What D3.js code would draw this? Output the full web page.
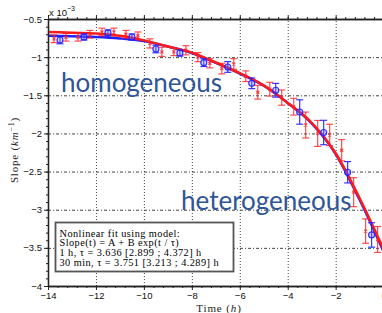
<!DOCTYPE html>
<html>
<head>
<meta charset="utf-8">
<script src="https://cdn.jsdelivr.net/npm/d3@7"></script>
<style>
  body { margin: 0; background: #fff; }
  .tick text { font-family: "Liberation Sans", Arial, sans-serif; font-size: 9.5px; fill: #111; }
</style>
</head>
<body>
<div id="chart"></div>
<script>
// 1 h series (blue circles), values in 1e-3 km^-1
const hourTimes = [-13.5, -12.5, -11.5, -10.5, -9.5, -8.5, -7.5, -6.5, -5.5, -4.5, -3.5, -2.5, -1.5, -0.5];
const hourSlope = [-0.775, -0.736, -0.683, -0.736, -0.893, -0.946, -1.073, -1.129, -1.343, -1.434, -1.719, -1.988, -2.509, -3.331];
const hourErr   = [0.05, 0.04, 0.04, 0.04, 0.05, 0.04, 0.05, 0.07, 0.07, 0.09, 0.16, 0.16, 0.14, 0.16];

// 30 min series (red crosses)
const halfTimes = [-13.75, -13.25, -12.75, -12.25, -11.75, -11.25, -10.75, -10.25, -9.75, -9.25,
  -8.75, -8.25, -7.75, -7.25, -6.75, -6.25, -5.75, -5.25, -4.75, -4.25,
  -3.75, -3.25, -2.75, -2.25, -1.75, -1.25, -0.75, -0.25];
const halfSlope = [-0.76, -0.74, -0.74, -0.70, -0.67, -0.67, -0.70, -0.72, -0.82, -0.93,
  -0.93, -0.91, -1.00, -1.08, -1.15, -1.09, -1.25, -1.46, -1.42, -1.53,
  -1.65, -1.89, -2.00, -2.02, -2.22, -2.77, -3.28, -3.39];
const halfErr = [0.05, 0.05, 0.05, 0.05, 0.05, 0.05, 0.05, 0.05, 0.06, 0.06,
  0.05, 0.06, 0.06, 0.06, 0.07, 0.07, 0.07, 0.09, 0.09, 0.10,
  0.11, 0.17, 0.17, 0.14, 0.14, 0.19, 0.16, 0.17];

// fitted curves, read at each hour
const fitTimes = [-14, -13, -12, -11, -10, -9, -8, -7, -6, -5, -4, -3, -2, -1, 0];
const fitHalf  = [-0.67, -0.68, -0.69, -0.72, -0.78, -0.86, -0.94, -1.07, -1.21, -1.37, -1.60, -1.86, -2.26, -2.85, -3.52];
const fitHour  = [-0.72, -0.725, -0.735, -0.755, -0.79, -0.86, -0.945, -1.075, -1.215, -1.375, -1.60, -1.87, -2.27, -2.87, -3.55];

const xTicks = [-14, -12, -10, -8, -6, -4, -2, 0];
const yTicks = [-0.5, -1, -1.5, -2, -2.5, -3, -3.5, -4];

const legendLines = [
  "Nonlinear fit using model:",
  "Slope(t) = A + B exp(t / \u03c4)",
  "1 h, \u03c4 = 3.636 [2.899 ; 4.372] h",
  "30 min, \u03c4 = 3.751 [3.213 ; 4.289] h"
];

const W = 382, H = 313;
const plotLeft = 48, plotRight = 383.6, plotTop = 19, plotBottom = 286;

const svg = d3.select('#chart').append('svg')
  .attr('width', W)
  .attr('height', H);

const x = d3.scaleLinear().domain([-14, 0]).range([plotLeft, plotRight]);
const y = d3.scaleLinear().domain([-4, -0.5]).range([plotBottom, plotTop]);

const fmt = d => String(d).replace('-', '\u2212');

// Grid
svg.append('g')
  .attr('transform', `translate(0,${plotBottom})`)
  .call(d3.axisBottom(x).tickValues(xTicks.slice(1, -1)).tickSize(-(plotBottom - plotTop)).tickFormat(''))
  .call(g => g.select('.domain').remove())
  .call(g => g.selectAll('line').attr('stroke', '#444').attr('stroke-dasharray', '1,2'));

svg.append('g')
  .attr('transform', `translate(${plotLeft},0)`)
  .call(d3.axisLeft(y).tickValues(yTicks.slice(1, -1)).tickSize(-(plotRight - plotLeft)).tickFormat(''))
  .call(g => g.select('.domain').remove())
  .call(g => g.selectAll('line').attr('stroke', '#444').attr('stroke-dasharray', '3,2,1,2'));

// Big annotations
svg.append('text')
  .attr('x', 61).attr('y', 92)
  .attr('font-family', 'Lato, "Open Sans", sans-serif')
  .attr('font-size', 26)
  .attr('fill', '#2f5597')
  .text('homogeneous');

svg.append('text')
  .attr('x', 181).attr('y', 210)
  .attr('font-family', 'Lato, "Open Sans", sans-serif')
  .attr('font-size', 26)
  .attr('fill', '#2f5597')
  .text('heterogeneous');

// Fit curves
const fitLine = vals => d3.line()
  .x((d, i) => x(fitTimes[i]))
  .y(d => y(d))
  .curve(d3.curveMonotoneX)(vals);

svg.append('path')
  .attr('d', fitLine(fitHour))
  .attr('fill', 'none')
  .attr('stroke', '#2020ff')
  .attr('stroke-width', 2.5);

svg.append('path')
  .attr('d', fitLine(fitHalf))
  .attr('fill', 'none')
  .attr('stroke', '#ff1a1a')
  .attr('stroke-width', 2.5);

// Error bars
function errorBars(times, vals, errs, color, opacity) {
  const g = svg.append('g')
    .attr('stroke', color)
    .attr('stroke-opacity', opacity)
    .attr('stroke-width', 1.2)
    .attr('fill', 'none');
  const pts = g.selectAll('g').data(times).enter().append('g');
  pts.append('line')
    .attr('x1', d => x(d)).attr('x2', d => x(d))
    .attr('y1', (d, i) => y(vals[i] + errs[i]))
    .attr('y2', (d, i) => y(vals[i] - errs[i]));
  pts.append('line')
    .attr('x1', d => x(d) - 3.5).attr('x2', d => x(d) + 3.5)
    .attr('y1', (d, i) => y(vals[i] + errs[i]))
    .attr('y2', (d, i) => y(vals[i] + errs[i]));
  pts.append('line')
    .attr('x1', d => x(d) - 3.5).attr('x2', d => x(d) + 3.5)
    .attr('y1', (d, i) => y(vals[i] - errs[i]))
    .attr('y2', (d, i) => y(vals[i] - errs[i]));
  return pts;
}

const red = errorBars(halfTimes, halfSlope, halfErr, '#ff2020', 0.8);
red.append('path')
  .attr('d', (d, i) => {
    const cx = x(d), cy = y(halfSlope[i]);
    return `M${cx - 1.5},${cy - 1.5}L${cx + 1.5},${cy + 1.5}M${cx - 1.5},${cy + 1.5}L${cx + 1.5},${cy - 1.5}`;
  });

const blue = errorBars(hourTimes, hourSlope, hourErr, '#2020ff', 0.9);
blue.append('circle')
  .attr('cx', d => x(d))
  .attr('cy', (d, i) => y(hourSlope[i]))
  .attr('r', 3)
  .attr('fill', 'rgba(120,120,255,0.35)');

// Axes
const axisStyle = g => g.call(s => s.select('.domain').attr('stroke', '#222').attr('stroke-width', 1.3))
  .call(s => s.selectAll('.tick line').attr('stroke', '#222'));

const minorX = d3.range(-14, 0.01, 0.4).map(v => +v.toFixed(1));
const minorY = d3.range(-4, -0.49, 0.1).map(v => +v.toFixed(1));

svg.append('g').attr('transform', `translate(0,${plotBottom})`)
  .call(d3.axisBottom(x).tickValues(minorX).tickSize(2).tickSizeOuter(0).tickFormat(''))
  .call(axisStyle);
svg.append('g').attr('transform', `translate(0,${plotBottom})`)
  .call(d3.axisBottom(x).tickValues(xTicks).tickSize(4).tickSizeOuter(0).tickPadding(2).tickFormat(fmt))
  .call(axisStyle);

svg.append('g').attr('transform', `translate(0,${plotTop})`)
  .call(d3.axisTop(x).tickValues(minorX).tickSize(2).tickSizeOuter(0).tickFormat(''))
  .call(axisStyle);
svg.append('g').attr('transform', `translate(0,${plotTop})`)
  .call(d3.axisTop(x).tickValues(xTicks).tickSize(4).tickSizeOuter(0).tickFormat(''))
  .call(axisStyle);

svg.append('g').attr('transform', `translate(${plotLeft},0)`)
  .call(d3.axisLeft(y).tickValues(minorY).tickSize(2).tickSizeOuter(0).tickFormat(''))
  .call(axisStyle);
svg.append('g').attr('transform', `translate(${plotLeft},0)`)
  .call(d3.axisLeft(y).tickValues(yTicks).tickSize(4).tickSizeOuter(0).tickPadding(2).tickFormat(fmt))
  .call(axisStyle);

svg.append('g').attr('transform', `translate(${plotRight},0)`)
  .call(d3.axisRight(y).tickValues(yTicks).tickSize(4).tickSizeOuter(0).tickFormat(''))
  .call(axisStyle);

// Exponent label
const expo = svg.append('text')
  .attr('x', 49).attr('y', 16)
  .attr('font-family', '"Liberation Sans", Arial, sans-serif')
  .attr('font-size', 9.5)
  .attr('fill', '#111');
expo.append('tspan').text('x 10');
expo.append('tspan').attr('dy', -5).attr('font-size', 7).text('\u22123');

// Axis titles
const serif = '"Liberation Serif", "DejaVu Serif", serif';
const xt = svg.append('text')
  .attr('x', 219).attr('y', 311.5)
  .attr('text-anchor', 'middle')
  .attr('font-family', serif)
  .attr('font-size', 11)
  .attr('letter-spacing', 0.9)
  .attr('fill', '#222');
xt.append('tspan').text('Time (');
xt.append('tspan').attr('font-style', 'italic').text('h');
xt.append('tspan').text(')');

const yt = svg.append('text')
  .attr('transform', 'translate(18,150) rotate(-90)')
  .attr('text-anchor', 'middle')
  .attr('font-family', serif)
  .attr('font-size', 11)
  .attr('letter-spacing', 0.8)
  .attr('fill', '#222');
yt.append('tspan').text('Slope (');
yt.append('tspan').attr('font-style', 'italic').text('km');
yt.append('tspan').attr('dy', -4).attr('font-size', 8).text('\u22121');
yt.append('tspan').attr('dy', 4).text(')');

// Legend box
svg.append('rect')
  .attr('x', 55.5).attr('y', 222.5)
  .attr('width', 178).attr('height', 49)
  .attr('fill', '#fff')
  .attr('stroke', '#555')
  .attr('stroke-width', 1.8);

svg.append('g').selectAll('text').data(legendLines).enter().append('text')
  .attr('x', 59.5)
  .attr('y', (d, i) => 236.5 + i * 9.7)
  .attr('font-family', serif)
  .attr('font-size', 10.3)
  .attr('letter-spacing', 0.45)
  .attr('fill', '#000')
  .text(d => d);
</script>
</body>
</html>
